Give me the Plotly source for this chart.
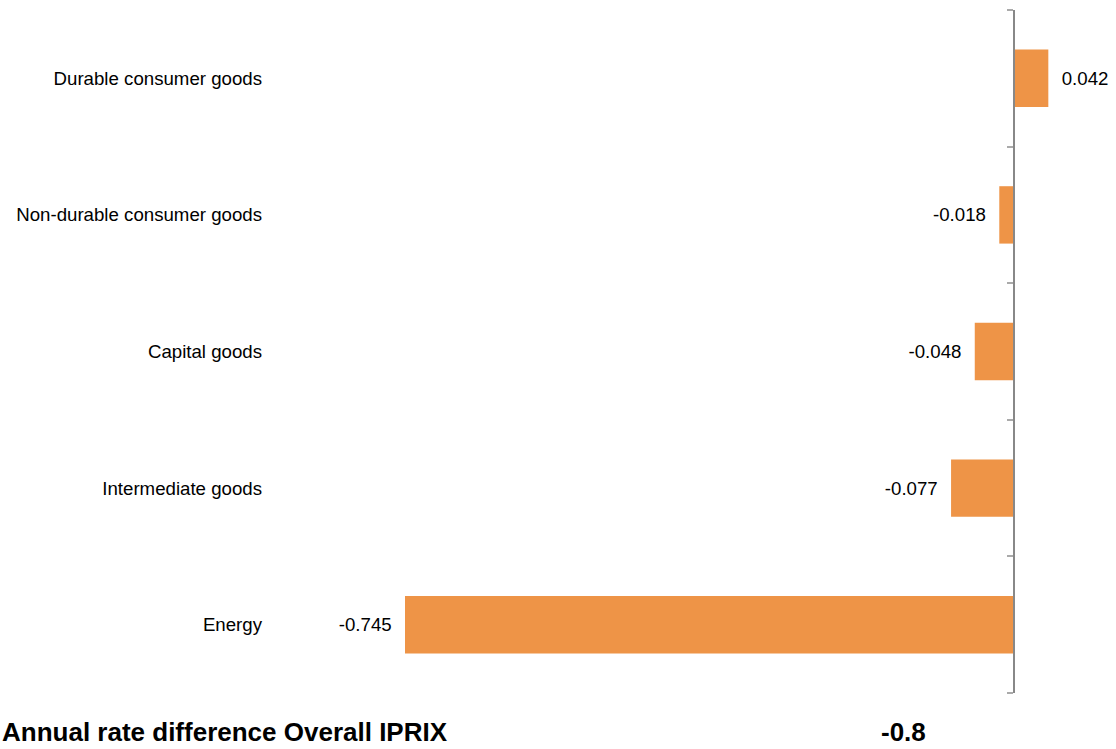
import plotly.graph_objects as go

categories = ["Energy", "Intermediate goods", "Capital goods",
              "Non-durable consumer goods", "Durable consumer goods"]
values = [-0.745, -0.077, -0.048, -0.018, 0.042]
overall_label = "Annual rate difference Overall IPRIX"
overall_value = -0.8

W, H = 1116, 749
ML, MR, MT, MB = 280, 0, 10, 56
plot_w = W - ML - MR
plot_h = H - MT - MB
zero_px = 1014
scale = 609 / 0.745
xmin = -(zero_px - ML) / scale
xmax = xmin + plot_w / scale

NB = "\u00a0"
texts = [(NB * 2 + f"{v:.3f}") if v >= 0 else (f"{v:.3f}" + NB * 2) for v in values]

FONT = "Liberation Sans, Arial, sans-serif"
fig = go.Figure()
fig.add_trace(go.Bar(
    x=values, y=categories, orientation="h",
    marker=dict(color="#EE9447", line=dict(width=0)),
    width=0.42,
    text=texts, textposition="outside", constraintext="none",
    textfont=dict(family=FONT, size=18.67, color="#000000"),
    cliponaxis=False, hoverinfo="x+y", showlegend=False,
))
fig.add_trace(go.Scatter(
    x=[0] * len(categories), y=categories, yaxis="y2", mode="none",
    showlegend=False, hoverinfo="skip",
))

bottom_y = -(H - 1 - (H - MB)) / plot_h

fig.update_layout(
    width=W, height=H, autosize=False,
    margin=dict(l=ML, r=MR, t=MT, b=MB, pad=0),
    paper_bgcolor="white", plot_bgcolor="white",
    font=dict(family=FONT, color="#000000"),
    xaxis=dict(visible=False, range=[xmin, xmax], fixedrange=True),
    yaxis=dict(type="category", categoryorder="array", categoryarray=categories,
               range=[-0.5, 4.5], showline=False, ticks="", showgrid=False,
               zeroline=False, tickfont=dict(family=FONT, size=18.67, color="#000000"),
               ticklabelstandoff=17),
    yaxis2=dict(type="category", categoryorder="array", categoryarray=categories,
                range=[-0.5, 4.5], overlaying="y", anchor="free",
                position=(zero_px - ML) / plot_w, side="left",
                showline=True, linecolor="#888888", linewidth=2,
                ticks="outside", ticklen=6, tickwidth=1.5, tickcolor="#aaaaaa",
                tickson="boundaries", showticklabels=False, showgrid=False,
                zeroline=False),
    annotations=[
        dict(text=f"<b>{overall_label}</b>", xref="paper", yref="paper",
             x=-(ML - 1) / plot_w, y=bottom_y,
             xanchor="left", yanchor="bottom", showarrow=False, borderpad=0,
             font=dict(family=FONT, size=26, color="#000000")),
        dict(text=f"<b>{overall_value}</b>", xref="paper", yref="paper",
             x=(927 - ML) / plot_w, y=bottom_y,
             xanchor="right", yanchor="bottom", showarrow=False, borderpad=0,
             font=dict(family=FONT, size=26, color="#000000")),
    ],
)
fig.write_html("out.html")
